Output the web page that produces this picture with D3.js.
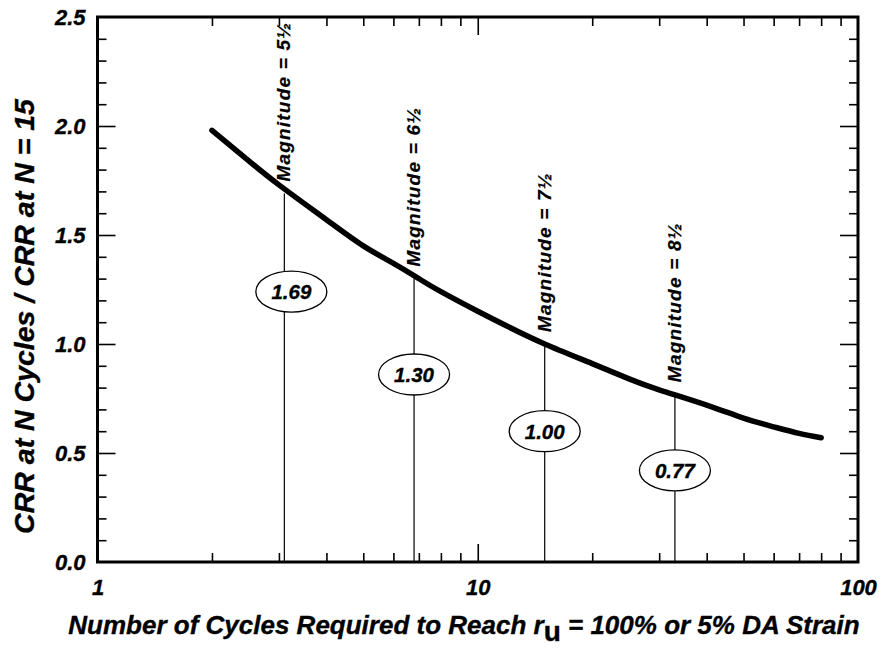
<!DOCTYPE html>
<html>
<head>
<meta charset="utf-8">
<script src="https://cdn.jsdelivr.net/npm/d3@7"></script>
<style>
  html, body { margin: 0; padding: 0; background: #fff; }
  svg text { font-family: "Liberation Sans", Arial, Helvetica, sans-serif; font-weight: bold; font-style: italic; fill: #000; stroke: #000; stroke-width: 0.35px; }
</style>
</head>
<body>
<svg id="chart" width="895" height="650"></svg>
<script>
// Cycle-ratio curve: CRR at N cycles normalised by CRR at N = 15
const curveCycles = [2, 2.5, 3, 4, 5, 6, 7, 8, 10, 12, 15, 20, 25, 30, 40, 50, 60, 70, 80];
const curveRatio  = [1.98, 1.84, 1.73, 1.57, 1.45, 1.37, 1.30, 1.24, 1.15, 1.08, 1.00, 0.91, 0.84, 0.79, 0.72, 0.66, 0.62, 0.59, 0.57];

// Equivalent uniform cycles for each earthquake magnitude
const magnitudes   = ["5\u00BD", "6\u00BD", "7\u00BD", "8\u00BD"];
const magCycles    = [3.1, 6.8, 15, 33];
const magRatio     = [1.69, 1.30, 1.00, 0.77];
const magRatioText = ["1.69", "1.30", "1.00", "0.77"];
// level (in ratio units) where each value tag sits on its drop line
const tagLevel     = [1.24, 0.86, 0.60, 0.42];

// Axis ticks
const xLabelTicks = [1, 10, 100];
const xMinorTicks = [2, 3, 4, 5, 6, 7, 8, 9, 20, 30, 40, 50, 60, 70, 80, 90];
const xMajorTicks = [10];
const yLabelTicks = [0, 0.5, 1.0, 1.5, 2.0, 2.5];
const yMinorTicks = [0.1, 0.2, 0.3, 0.4, 0.6, 0.7, 0.8, 0.9, 1.1, 1.2, 1.3, 1.4, 1.6, 1.7, 1.8, 1.9, 2.1, 2.2, 2.3, 2.4];
const yMajorTicks = [0.5, 1.0, 1.5, 2.0];

const svg = d3.select("#chart");
const L = 97.5, R = 858, T = 17, B = 562;

const x = d3.scaleLog().domain([1, 100]).range([L, R]);
const y = d3.scaleLinear().domain([0, 2.5]).range([B, T]);

// inward ticks on all four sides
function tickGroup(axis, tx, ty) {
  const g = svg.append("g").attr("transform", `translate(${tx},${ty})`).call(axis);
  g.select(".domain").remove();
  g.selectAll("text").remove();
  g.selectAll("line").attr("stroke", "#000").attr("stroke-width", 1.6);
  return g;
}
tickGroup(d3.axisBottom(x).tickValues(xMinorTicks).tickSize(-9), 0, B);
tickGroup(d3.axisBottom(x).tickValues(xMajorTicks).tickSize(-18), 0, B);
tickGroup(d3.axisTop(x).tickValues(xMinorTicks).tickSize(-9), 0, T);
tickGroup(d3.axisTop(x).tickValues(xMajorTicks).tickSize(-18), 0, T);
tickGroup(d3.axisLeft(y).tickValues(yMinorTicks).tickSize(-9), L, 0);
tickGroup(d3.axisLeft(y).tickValues(yMajorTicks).tickSize(-18), L, 0);
tickGroup(d3.axisRight(y).tickValues(yMinorTicks).tickSize(-9), R, 0);
tickGroup(d3.axisRight(y).tickValues(yMajorTicks).tickSize(-18), R, 0);

// tick labels
const xl = svg.append("g").attr("transform", `translate(0,${B})`)
  .call(d3.axisBottom(x).tickValues(xLabelTicks).tickSize(0).tickPadding(17).tickFormat(d3.format("d")));
xl.select(".domain").remove();
xl.selectAll("text").attr("font-size", 22).attr("font-family", null);

const yl = svg.append("g").attr("transform", `translate(${L},0)`)
  .call(d3.axisLeft(y).tickValues(yLabelTicks).tickSize(0).tickPadding(12).tickFormat(d3.format(".1f")));
yl.select(".domain").remove();
yl.selectAll("text").attr("font-size", 22).attr("font-family", null);

// drop lines from the axis up to the curve
svg.append("g").selectAll("line").data(magCycles).join("line")
  .attr("x1", d => x(d)).attr("x2", d => x(d))
  .attr("y1", y(0)).attr("y2", (d, i) => y(magRatio[i]))
  .attr("stroke", "#000").attr("stroke-width", 1.2);

// main curve
const line = d3.line()
  .x((d, i) => x(curveCycles[i]))
  .y(d => y(d))
  .curve(d3.curveNatural);
svg.append("path").datum(curveRatio)
  .attr("d", line)
  .attr("fill", "none").attr("stroke", "#000").attr("stroke-width", 5.5).attr("stroke-linecap", "round");

// magnitude labels, rotated, sitting just above the curve
svg.append("g").selectAll("text").data(magnitudes).join("text")
  .attr("transform", (d, i) => `translate(${x(magCycles[i]) + 6},${y(magRatio[i]) - 12}) rotate(-90)`)
  .attr("font-size", 19)
  .attr("letter-spacing", 1.2)
  .style("stroke-width", "0.2px")
  .text(d => "Magnitude = " + d);

// value tags
const tags = svg.append("g").selectAll("g").data(magRatioText).join("g")
  .attr("transform", (d, i) => `translate(${x(magCycles[i]) + (i === 0 ? 7 : 0)},${y(tagLevel[i])})`);
tags.append("ellipse").attr("rx", 35.5).attr("ry", 20.5)
  .attr("fill", "#fff").attr("stroke", "#000").attr("stroke-width", 1.3);
tags.append("text").attr("text-anchor", "middle").attr("dy", "0.36em")
  .attr("font-size", 20.5).text(d => d);

// frame
svg.append("rect").attr("x", L).attr("y", T).attr("width", R - L).attr("height", B - T)
  .attr("fill", "none").attr("stroke", "#000").attr("stroke-width", 3);

// axis titles
const xt = svg.append("text").attr("x", 464).attr("y", 634).attr("text-anchor", "middle").attr("font-size", 26);
xt.append("tspan").text("Number of Cycles Required to Reach r");
xt.append("tspan").attr("dy", 7).attr("font-size", 28).attr("font-style", "normal").text("u");
xt.append("tspan").attr("dy", -7).text(" = 100% or 5% DA Strain");

svg.append("text")
  .attr("transform", `translate(34,${(T + B) / 2 + 27}) rotate(-90)`)
  .attr("text-anchor", "middle").attr("font-size", 28.5)
  .text("CRR at N Cycles / CRR at N = 15");
</script>
</body>
</html>
